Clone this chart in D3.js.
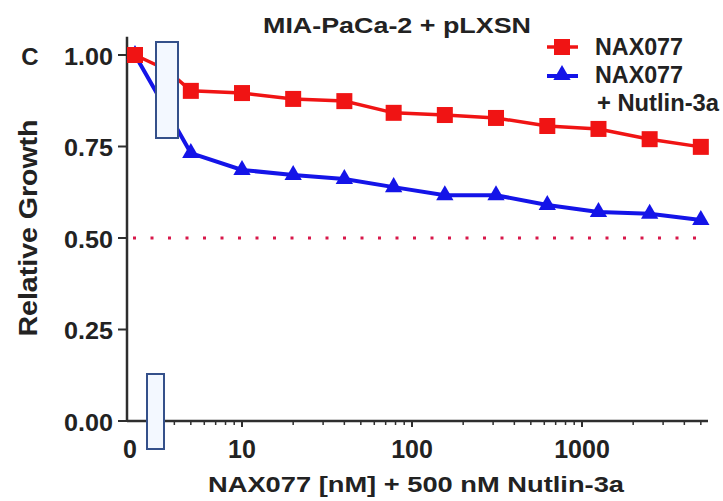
<!DOCTYPE html>
<html>
<head>
<meta charset="utf-8">
<script src="https://cdn.jsdelivr.net/npm/d3@7"></script>
<style>
  html, body { margin: 0; padding: 0; background: #ffffff; }
  svg text { font-family: "Liberation Sans", Arial, sans-serif; font-weight: bold; fill: #222; }
</style>
</head>
<body>
<svg id="chart" width="723" height="501"></svg>
<script>
// ---- data ----
const concentrations = [0, 2.5, 5, 10, 20, 40, 78, 156, 312, 625, 1250, 2500, 5000];
const nax077 =        [1.00, 0.959, 0.902, 0.896, 0.880, 0.874, 0.842, 0.836, 0.828, 0.806, 0.798, 0.770, 0.749];
const naxNutlin =     [1.00, 0.847, 0.732, 0.686, 0.672, 0.661, 0.639, 0.617, 0.617, 0.590, 0.571, 0.566, 0.549];
const seriesNames = ["NAX077", "NAX077", "+ Nutlin-3a"];
const yTicks = [0, 0.25, 0.5, 0.75, 1.0];
const yTickLabels = ["0.00", "0.25", "0.50", "0.75", "1.00"];
const xTicks = [0, 10, 100, 1000];
const xTickLabels = ["0", "10", "100", "1000"];
const threshold = 0.5;
const titleText = "MIA-PaCa-2 + pLXSN";
const xTitle = "NAX077 [nM] + 500 nM Nutlin-3a";
const yTitle = "Relative Growth";
const panelLabel = "C";

// ---- layout ----
const svg = d3.select("#chart");
const axisX0 = 127, axisXEnd = 708;
const yScale = d3.scaleLinear().domain([0, 1]).range([421, 55]);
const xLog = d3.scaleLog().domain([10, 1000]).range([242, 582]);
const xBreak = d3.scaleLinear().domain([0, 2.5, 5]).range([135, 167, xLog(5)]);
const x = c => (c < 5 ? xBreak(c) : xLog(c));

const axisColor = "#2e2e2e";
const red = "#f01414";
const blue = "#1414e8";

// threshold dotted line
svg.append("line")
  .attr("x1", axisX0 + 6).attr("x2", x(5200))
  .attr("y1", yScale(threshold)).attr("y2", yScale(threshold))
  .attr("stroke", "#d8184a").attr("stroke-width", 3)
  .attr("stroke-dasharray", "3,14.5");

// axes
const g = svg.append("g");
g.append("line").attr("x1", axisX0).attr("x2", axisX0)
  .attr("y1", yScale(0) + 1).attr("y2", yScale(1.05))
  .attr("stroke", axisColor).attr("stroke-width", 2.5);
yTicks.forEach((t, i) => {
  g.append("line").attr("x1", axisX0 - 9).attr("x2", axisX0)
    .attr("y1", yScale(t)).attr("y2", yScale(t))
    .attr("stroke", axisColor).attr("stroke-width", 2);
  g.append("text").attr("x", axisX0 - 14).attr("y", yScale(t) + 1)
    .attr("text-anchor", "end").attr("dominant-baseline", "central")
    .attr("font-size", 24).attr("textLength", 49).attr("lengthAdjust", "spacingAndGlyphs")
    .text(yTickLabels[i]);
});
g.append("line").attr("x1", axisX0).attr("x2", axisXEnd)
  .attr("y1", yScale(0)).attr("y2", yScale(0))
  .attr("stroke", axisColor).attr("stroke-width", 2.5);
const minor = [];
[1, 10, 100, 1000].forEach(d => { for (let k = 2; k <= 9; k++) { const v = k * d; if (v >= 3 && v <= 5000) minor.push(v); } });
minor.forEach(v => {
  g.append("line").attr("x1", xLog(v)).attr("x2", xLog(v))
    .attr("y1", yScale(0)).attr("y2", yScale(0) + 4)
    .attr("stroke", axisColor).attr("stroke-width", 1.5);
});
xTicks.forEach((t, i) => {
  if (t > 0) {
    g.append("line").attr("x1", xLog(t)).attr("x2", xLog(t))
      .attr("y1", yScale(0)).attr("y2", yScale(0) + 6)
      .attr("stroke", axisColor).attr("stroke-width", 2);
  }
  g.append("text").attr("x", x(t)).attr("dx", t === 0 ? -5 : 0).attr("y", yScale(0) + 28)
    .attr("text-anchor", "middle").attr("dominant-baseline", "central")
    .attr("font-size", 25).text(xTickLabels[i]);
});

// series
const line = d3.line().x((d, i) => x(concentrations[i])).y(d => yScale(d));
svg.append("path").datum(naxNutlin).attr("d", line)
  .attr("fill", "none").attr("stroke", blue).attr("stroke-width", 4);
svg.selectAll(".tri").data(naxNutlin.map((v, i) => ({ v, c: concentrations[i], i })).filter(d => d.i !== 1))
  .enter().append("path")
  .attr("d", d3.symbol().type(d3.symbolTriangle).size(130))
  .attr("transform", d => `translate(${x(d.c)},${yScale(d.v)})`)
  .attr("fill", blue);
svg.append("path").datum(nax077).attr("d", line)
  .attr("fill", "none").attr("stroke", red).attr("stroke-width", 3.5);
svg.selectAll(".sq").data(nax077.map((v, i) => ({ v, c: concentrations[i], i })).filter(d => d.i !== 1))
  .enter().append("rect")
  .attr("x", d => x(d.c) - 8).attr("y", d => yScale(d.v) - 8)
  .attr("width", 16).attr("height", 16).attr("fill", red);

// axis-break boxes
const boxFill = "#f3f8ff", boxStroke = "#34508a";
svg.append("rect").attr("x", 156).attr("y", 42).attr("width", 22).attr("height", 96)
  .attr("fill", boxFill).attr("stroke", boxStroke).attr("stroke-width", 2);
svg.append("rect").attr("x", 147).attr("y", 374).attr("width", 17).attr("height", 75)
  .attr("fill", boxFill).attr("stroke", boxStroke).attr("stroke-width", 2);

// legend
const lg = svg.append("g");
lg.append("line").attr("x1", 547).attr("x2", 578).attr("y1", 47).attr("y2", 47)
  .attr("stroke", red).attr("stroke-width", 3.5);
lg.append("rect").attr("x", 554).attr("y", 39).attr("width", 16).attr("height", 16).attr("fill", red);
lg.append("line").attr("x1", 547).attr("x2", 578).attr("y1", 76).attr("y2", 76)
  .attr("stroke", blue).attr("stroke-width", 4);
lg.append("path").attr("d", d3.symbol().type(d3.symbolTriangle).size(130))
  .attr("transform", "translate(562,75)").attr("fill", blue);
lg.append("text").attr("x", 595).attr("y", 47).attr("dominant-baseline", "central")
  .attr("font-size", 23).attr("textLength", 88).attr("lengthAdjust", "spacingAndGlyphs").text(seriesNames[0]);
lg.append("text").attr("x", 595).attr("y", 75).attr("dominant-baseline", "central")
  .attr("font-size", 23).attr("textLength", 88).attr("lengthAdjust", "spacingAndGlyphs").text(seriesNames[1]);
lg.append("text").attr("x", 597).attr("y", 103).attr("dominant-baseline", "central")
  .attr("font-size", 23).attr("textLength", 122).attr("lengthAdjust", "spacingAndGlyphs").text(seriesNames[2]);

// titles
svg.append("text").attr("x", 397).attr("y", 25).attr("text-anchor", "middle")
  .attr("dominant-baseline", "central").attr("font-size", 22)
  .attr("textLength", 268).attr("lengthAdjust", "spacingAndGlyphs").text(titleText);
svg.append("text").attr("x", 416).attr("y", 484).attr("text-anchor", "middle")
  .attr("dominant-baseline", "central").attr("font-size", 22)
  .attr("textLength", 416).attr("lengthAdjust", "spacingAndGlyphs").text(xTitle);
svg.append("text").attr("transform", "translate(28,228) rotate(-90)").attr("text-anchor", "middle")
  .attr("dominant-baseline", "central").attr("font-size", 26)
  .attr("textLength", 217).attr("lengthAdjust", "spacingAndGlyphs").text(yTitle);
svg.append("text").attr("x", 30).attr("y", 56).attr("text-anchor", "middle")
  .attr("dominant-baseline", "central").attr("font-size", 24).text(panelLabel);
</script>
</body>
</html>
